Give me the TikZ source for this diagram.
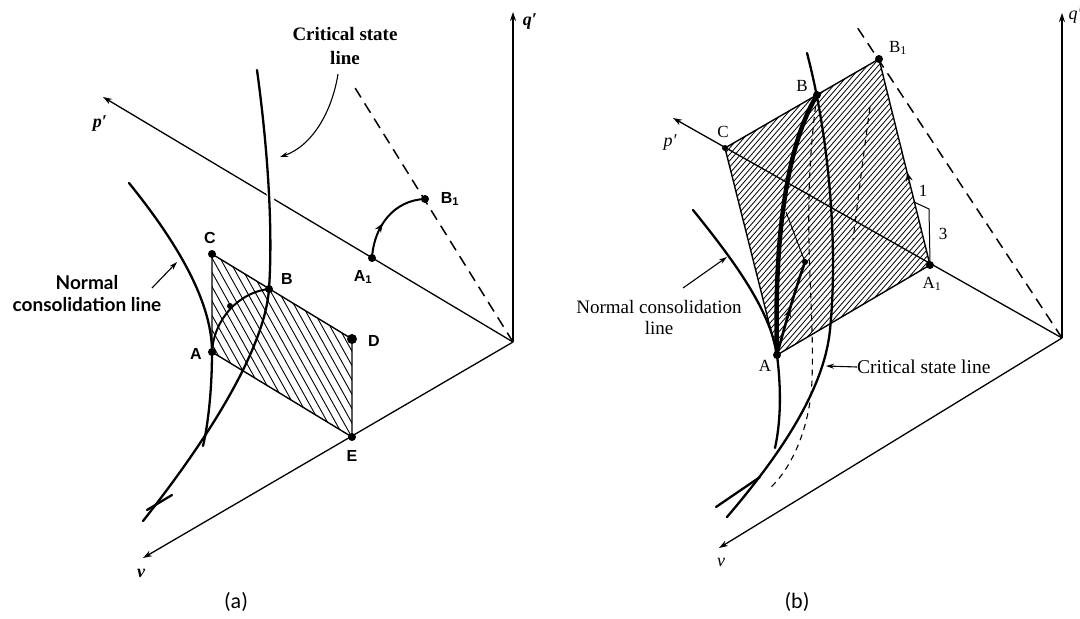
\documentclass[tikz,border=0pt]{standalone}
\usepackage{fontspec}
\setmainfont{Liberation Serif}
\newfontfamily\lsans{Liberation Sans}
\newfontfamily\lato{Lato}
\newfontfamily\carl{Carlito}
\usetikzlibrary{arrows.meta,decorations.markings}
\tikzset{
  axis/.style={line width=1.3pt,-{Stealth[length=9pt,width=6pt]}},
  curve/.style={line width=2.3pt,line cap=round},
  dsh/.style={line width=1.5pt,dash pattern=on 11pt off 7pt},
  dshthin/.style={line width=1.1pt,dash pattern=on 6pt off 5pt},
  edge/.style={line width=1.4pt},
  hatch/.style={line width=0.9pt},
  dotpt/.style={circle,fill,inner sep=0pt,minimum size=8pt},
  lbla/.style={font=\lsans\bfseries\fontsize{16}{16}\selectfont,inner sep=1pt},
  lblb/.style={font=\fontsize{17}{17}\selectfont,inner sep=1pt},
  axlbl/.style={font=\itshape\fontsize{18}{18}\selectfont,inner sep=1pt},
  axlbla/.style={font=\bfseries\itshape\fontsize{18}{18}\selectfont,inner sep=1pt},
  midarrow/.style={postaction={decorate},decoration={markings,mark=at position #1 with {\arrow{Stealth[length=9pt,width=7pt]}}}},
  ptr/.style={line width=1.1pt,-{Stealth[length=8pt,width=5pt]}}
}
\begin{document}
\begin{tikzpicture}[x=1pt,y=-1pt]
\useasboundingbox (0,0) rectangle (1080,619);
% ================= panel (a) =================
\coordinate (Oa) at (513,342);
\coordinate (qa) at (513,12);
\coordinate (pa) at (103,97);
\coordinate (va) at (143,558);
\coordinate (da) at (352,83);
\node[dotpt] (Ca) at (212,254) {};
\node[dotpt] (Aa) at (212,352) {};
\node[dotpt,minimum size=10pt] (Da) at (352,339) {};
\node[dotpt] (Ea) at (352,437) {};
\node[dotpt] (Ba) at (269,289) {};
\node[dotpt] (A1a) at (372,258) {};
\node[dotpt] (B1a) at (425,199) {};
% hatched region
\begin{scope}
\clip (Ca.center) -- (Da.center) -- (Ea.center) -- (Aa.center) -- cycle;
\foreach \k in {0,...,24} {\draw[hatch] (130+8*\k,240) -- ++(117,210);}
\end{scope}
\draw[edge] (Ca.center) -- (Da.center) -- (Ea.center) -- (Aa.center) -- cycle;
% axes
\draw[axis] (Oa) -- (qa);
\draw[axis] (Oa) -- (pa);
\draw[axis] (Oa) -- (va);
\draw[dsh] (Oa) -- (da);
% critical state line (a)
\draw[white,line width=7pt] (269,180) -- (272,216);
\draw[curve] (257,70) .. controls (268,150) and (273,230) .. (Ba.center)
   .. controls (265,345) and (215,430) .. (143,521);
% normal consolidation line (a)
\draw[curve] (129,183) .. controls (175,240) and (212,300) .. (Aa.center)
   .. controls (212,390) and (208,425) .. (203,446);
\draw[curve] (172,495) -- (147,510);
% paths
\draw[curve,line width=2pt] (Aa.center) .. controls (214,318) and (240,292) .. (Ba.center);
\node[dotpt,minimum size=6pt] (Pa) at (230,306) {};
\draw[curve,line width=2pt,midarrow=0.42] (A1a.center) .. controls (374,225) and (395,200) .. (B1a.center);
% labels (a)
\node[axlbla] (lqa) at (530,22) {q′};
\node[axlbla] (lpa) at (100,124) {p′};
\node[axlbla] (lva) at (141,573) {v};
\node[lbla] (lCa) at (210,238) {C};
\node[lbla] (lBa) at (287,279) {B};
\node[lbla] (lAa) at (196,354) {A};
\node[lbla] (lDa) at (374,341) {D};
\node[lbla] (lEa) at (352,456) {E};
\node[lbla] (lA1a) at (363,277) {A\textsubscript{1}};
\node[lbla] (lB1a) at (450,199) {B\textsubscript{1}};
\node[font=\bfseries\fontsize{19}{24}\selectfont,align=center,inner sep=0pt] (csla) at (345,46) {Critical state\\line};
\coordinate (csla1) at (338,74);
\coordinate (csla2) at (280,157);
\draw[ptr] (csla1) .. controls (332,112) and (312,146) .. (csla2);
\node[font=\lato\bfseries\fontsize{19}{22}\selectfont,align=center,inner sep=0pt] (ncla) at (87,294) {Normal\\consolidation line};
\coordinate (ncla1) at (152,288);
\coordinate (ncla2) at (177,262);
\draw[ptr] (ncla1) -- (ncla2);
\node[font=\carl\fontsize{22}{22}\selectfont] (capa) at (236,602) {(a)};
% ================= panel (b) =================
\coordinate (Ob) at (1062,338);
\coordinate (qb) at (1062,13);
\coordinate (pb) at (673,118);
\coordinate (vb) at (719,548);
\coordinate (db) at (857,27);
\node[dotpt,minimum size=6pt] (Cb) at (725,148) {};
\node[dotpt] (B1b) at (879,59) {};
\node[dotpt] (A1b) at (930,265) {};
\node[dotpt] (Ab) at (777,355) {};
\node[dotpt] (Bb) at (817,95) {};
\node[dotpt,minimum size=6pt] (Pb) at (805,262) {};
\begin{scope}
\clip (Cb.center) -- (B1b.center) -- (A1b.center) -- (Ab.center) -- cycle;
\foreach \k in {0,...,62} {\draw[line width=0.8pt] (530+5.5*\k,365) -- ++(280,-322);}
\end{scope}
\draw[edge] (Cb.center) -- (B1b.center);
\draw[edge,midarrow=0.45] (A1b.center) -- (B1b.center);
\draw[edge] (A1b.center) -- (Ab.center) -- (Cb.center);
% axes
\draw[axis] (Ob) -- (qb);
\draw[axis] (Ob) -- (pb);
\draw[axis] (Ob) -- (vb);
\draw[dsh] (Ob) -- (db);
% slope bracket
\coordinate (s1) at (914,202);
\coordinate (s2) at (929,209);
\coordinate (s3) at (930,262);
\draw[line width=1pt] (s1) -- (s2) -- (s3);
\node[lblb] (l1) at (923,191) {1};
\node[lblb] (l3) at (943,234) {3};
% dashed curves
\draw[dshthin] (Bb.center) .. controls (800,220) and (815,300) .. (812,380)
   .. controls (810,430) and (790,470) .. (770,488);
\draw[dshthin] (870,107) .. controls (864,150) and (858,200) .. (853,240);
% critical state line (b)
\draw[curve] (807,53) .. controls (830,140) and (838,250) .. (830,330)
   .. controls (824,390) and (780,455) .. (727,517);
% normal consolidation line (b)
\draw[curve] (693,210) .. controls (735,262) and (770,310) .. (Ab.center)
   .. controls (782,395) and (780,425) .. (775,448);
\draw[curve] (760,477) -- (716,507);
% undrained paths
\draw[line width=4.5pt,line cap=round] (Ab.center) .. controls (775,280) and (778,160) .. (Bb.center);
\draw[line width=2.6pt,line cap=round,midarrow=0.5] (Ab.center) .. controls (785,325) and (795,290) .. (Pb.center);
\draw[line width=1pt] (786,212) -- (Pb.center);
% labels (b)
\node[axlbl] (lqb) at (1075,16) {q′};
\node[axlbl] (lpb) at (670,143) {p′};
\node[axlbl] (lvb) at (721,562) {v};
\node[lblb] (lCb) at (723,132) {C};
\node[lblb] (lBb) at (802,86) {B};
\node[lblb] (lB1b) at (898,48) {B\textsubscript{1}};
\node[lblb] (lA1b) at (932,284) {A\textsubscript{1}};
\node[lblb] (lAb) at (765,366) {A};
\node[font=\fontsize{19}{21}\selectfont,align=center,inner sep=0pt] (nclb) at (659,317) {Normal consolidation\\line};
\coordinate (nclb1) at (683,288);
\coordinate (nclb2) at (727,257);
\draw[ptr] (nclb1) -- (nclb2);
\node[font=\fontsize{19.5}{19.5}\selectfont,anchor=west,inner sep=0pt] (cslb) at (857,367) {Critical state line};
\coordinate (cslb2) at (826,366);
\draw[ptr] (cslb.west) -- (cslb2);
\node[font=\carl\fontsize{22}{22}\selectfont] (capb) at (797,602) {(b)};
\end{tikzpicture}
\end{document}
